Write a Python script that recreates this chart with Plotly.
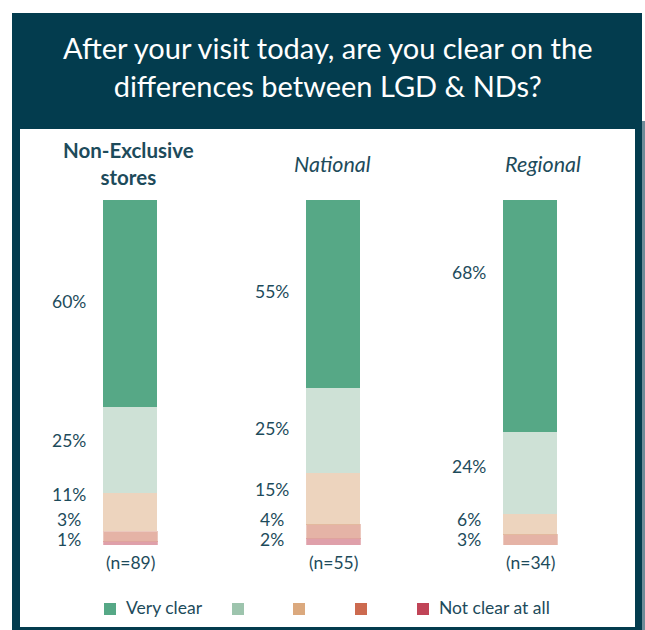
import plotly.graph_objects as go
from plotly.subplots import make_subplots

# ---- data -------------------------------------------------------------
groups = ["Non-Exclusive<br>stores", "National", "Regional"]
group_styles = ["bold", "italic", "italic"]
sample_sizes = [89, 55, 34]

levels = ["Very clear", "Clear", "Somewhat clear", "Not very clear", "Not clear at all"]
legend_labels = ["Very clear", "", "", "", "Not clear at all"]

very_clear = [60, 55, 68]
clear = [25, 25, 24]
somewhat_clear = [11, 15, 6]
not_very_clear = [3, 4, 3]
not_clear_at_all = [1, 2, 0]

# ---- styling ----------------------------------------------------------
W, H = 645, 630
NAVY = "#033c4e"
TEXT = "#1d4b5b"
FONT = "Lato"
level_colors = ["#56a886", "#9dc4ad", "#dba97e", "#cc6a4f", "#c04457"]
level_opacity = [1.0, 0.5, 0.5, 0.5, 0.5]
edge_colors = [None, None, None, "#d8927f", "#d06f7b"]

bar_centers_px = [130, 333, 530]
bar_width_px = 54
slot_px = 100
plot_top_px, plot_bottom_px = 200, 545

# vertical positions (px from top) of the percentage labels, per group
label_y_px = [
    [301, 440, 494, 519, 539],
    [291, 428, 489, 519, 539],
    [272, 466, 519, 539, None],
]
title_x_px = [128, 332, 543]


def px_x(x):
    return x / W


def px_y(y):
    return 1 - y / H


series = [very_clear, clear, somewhat_clear, not_very_clear, not_clear_at_all]

fig = make_subplots(rows=1, cols=3)

for g, name in enumerate(groups):
    total = sum(s[g] for s in series)
    # bottom of stack first
    for k in reversed(range(len(levels))):
        val = series[k][g]
        if val == 0:
            continue
        line = dict(width=0)
        if edge_colors[k]:
            line = dict(width=1, color=edge_colors[k])
        fig.add_trace(
            go.Bar(
                x=[name],
                y=[val],
                name=levels[k],
                marker=dict(color=level_colors[k], opacity=level_opacity[k], line=line),
                showlegend=False,
                hoverinfo="skip",
            ),
            row=1,
            col=g + 1,
        )
    c = bar_centers_px[g]
    xa = "xaxis" if g == 0 else f"xaxis{g + 1}"
    ya = "yaxis" if g == 0 else f"yaxis{g + 1}"
    fig.layout[xa].update(
        domain=[px_x(c - slot_px / 2), px_x(c + slot_px / 2)],
        range=[-0.5, 0.5],
        visible=False,
        fixedrange=True,
    )
    fig.layout[ya].update(
        domain=[px_y(plot_bottom_px), px_y(plot_top_px)],
        range=[0, total],
        visible=False,
        fixedrange=True,
    )

    # percentage labels to the left of each bar
    for k in range(len(levels)):
        val = series[k][g]
        ly = label_y_px[g][k]
        if val == 0 or ly is None:
            continue
        fig.add_annotation(
            x=px_x(c - 61), y=px_y(ly), xref="paper", yref="paper",
            text=f"{val}%", showarrow=False, xanchor="center", yanchor="middle",
            font=dict(family=FONT, size=17.5, color=TEXT),
        )

    # sample size under each bar
    fig.add_annotation(
        x=px_x(c), y=px_y(562), xref="paper", yref="paper",
        text=f"(n={sample_sizes[g]})", showarrow=False, xanchor="center", yanchor="middle",
        font=dict(family=FONT, size=17.5, color=TEXT),
    )

    # group heading
    style = group_styles[g]
    if style == "bold":
        heading, hsize = f"<b>{name}</b>", 20.5
    else:
        heading, hsize = f"<i>{name}</i>", 21.5
    fig.add_annotation(
        x=px_x(title_x_px[g]), y=px_y(164), xref="paper", yref="paper",
        text=heading, showarrow=False, xanchor="center", yanchor="middle",
        font=dict(family=FONT, size=hsize, color=TEXT), align="center",
    )

fig.update_layout(bargap=1 - bar_width_px / slot_px, barmode="stack")

# ---- frame and header band -------------------------------------------
shapes = [
    dict(type="rect", xref="paper", yref="paper", layer="below",
         x0=px_x(12), x1=px_x(642), y0=px_y(630), y1=px_y(13),
         fillcolor=NAVY, line=dict(width=0)),
    dict(type="rect", xref="paper", yref="paper", layer="below",
         x0=px_x(642), x1=px_x(645), y0=px_y(630), y1=px_y(121),
         fillcolor="#6d8c99", line=dict(width=0)),
    dict(type="rect", xref="paper", yref="paper", layer="below",
         x0=px_x(20), x1=px_x(635), y0=px_y(627), y1=px_y(129),
         fillcolor="white", line=dict(width=0)),
]

# ---- legend -----------------------------------------------------------
legend_swatch_px = [104, 232, 293, 355, 417]
for k, lab in enumerate(legend_labels):
    x0 = legend_swatch_px[k]
    shapes.append(dict(
        type="rect", xref="paper", yref="paper",
        x0=px_x(x0), x1=px_x(x0 + 12), y0=px_y(615), y1=px_y(603),
        fillcolor=level_colors[k], line=dict(width=0),
    ))
    if lab:
        fig.add_annotation(
            x=px_x(x0 + 20), y=px_y(607), xref="paper", yref="paper",
            text=lab, showarrow=False, xanchor="left", yanchor="middle",
            font=dict(family=FONT, size=17.5, color=TEXT),
        )

fig.add_annotation(
    x=px_x(327), y=px_y(67), xref="paper", yref="paper",
    text="After your visit today, are you clear on the<br>differences between LGD &amp; NDs?",
    showarrow=False, xanchor="center", yanchor="middle", align="center",
    font=dict(family=FONT, size=29, color="white"),
)

fig.update_layout(
    width=W, height=H,
    margin=dict(l=0, r=0, t=0, b=0),
    paper_bgcolor="white", plot_bgcolor="rgba(0,0,0,0)",
    shapes=shapes,
    showlegend=False,
)

fig.write_html("out.html", config={"displayModeBar": False})
